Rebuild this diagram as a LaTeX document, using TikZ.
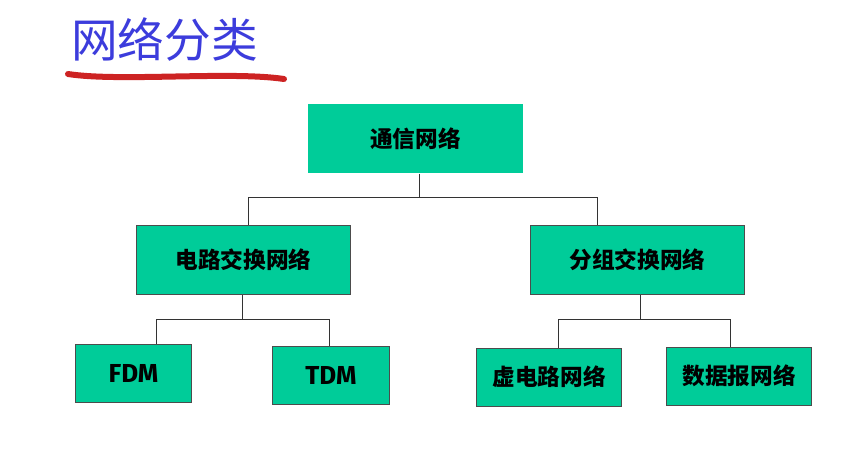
\documentclass[tikz,border=0pt]{standalone}
\usepackage{fontspec}
\newfontfamily\cjk{Noto Sans CJK SC}
\setsansfont{Fira Sans}
\usetikzlibrary{calc}
\definecolor{netgreen}{RGB}{0,204,153}
\definecolor{titleblue}{RGB}{60,60,220}
\definecolor{markred}{RGB}{205,35,35}

\begin{document}
\begin{tikzpicture}[
    x=0.75pt, y=-0.75pt,
    box/.style   = {rectangle, fill=netgreen, draw=black!70, line width=0.7pt,
                    inner sep=0pt, align=center, font=\cjk\bfseries\fontsize{17}{20}\selectfont},
    wide/.style  = {box, minimum width=161pt, minimum height=52pt},
    leaf/.style  = {box, minimum width=109pt, minimum height=43.5pt},
    abbr/.style  = {box, minimum width=87.5pt, minimum height=43.5pt,
                    font=\sffamily\bfseries\fontsize{19.5}{22}\selectfont},
    link/.style  = {draw=black!80, line width=0.7pt},
]
\useasboundingbox (0,0) rectangle (861,455);

% ---- title ------------------------------------------------------------------
\node[anchor=west, inner sep=0pt, text=titleblue, font=\cjk\fontsize{35}{38}\selectfont] (title) at (71,40) {网络分类};
\draw[markred, line width=4.5pt, line cap=round] (68,74) .. controls (120,82) and (230,71) .. (284,79);

% ---- tree nodes ---------------------------------------------------------------
\node[wide, draw=none] (net) at (415.5,138.5) {通信网络};
\node[wide] (circ) at (243.5,260) {电路交换网络};
\node[wide] (pkt) at (637.5,260) {分组交换网络};
\node[abbr] (fdm) at (133.5,373) {FDM};
\node[abbr] (tdm) at (331,375.5) {TDM};
\node[leaf] (vc) at (549,377) {虚电路网络};
\node[leaf] (dg) at (739,376) {数据报网络};

% ---- connectors -------------------------------------------------------------
\draw[link] ($(net.south)+(4,0)$) -- ++(0,24) coordinate (j0);
\draw[link] ($(circ.north)+(5,0)$) |- (j0) -| ($(pkt.north)+(-40,0)$);
\draw[link] ($(circ.south)+(-1,0)$) -- ++(0,24) coordinate (j1);
\draw[link] ($(fdm.north)+(23,0)$) |- (j1) -| ($(tdm.north)+(-2,0)$);
\draw[link] ($(pkt.south)+(3,0)$) -- ++(0,24) coordinate (j2);
\draw[link] ($(vc.north)+(9,0)$) |- (j2) -| ($(dg.north)+(-9,0)$);
\end{tikzpicture}
\end{document}
